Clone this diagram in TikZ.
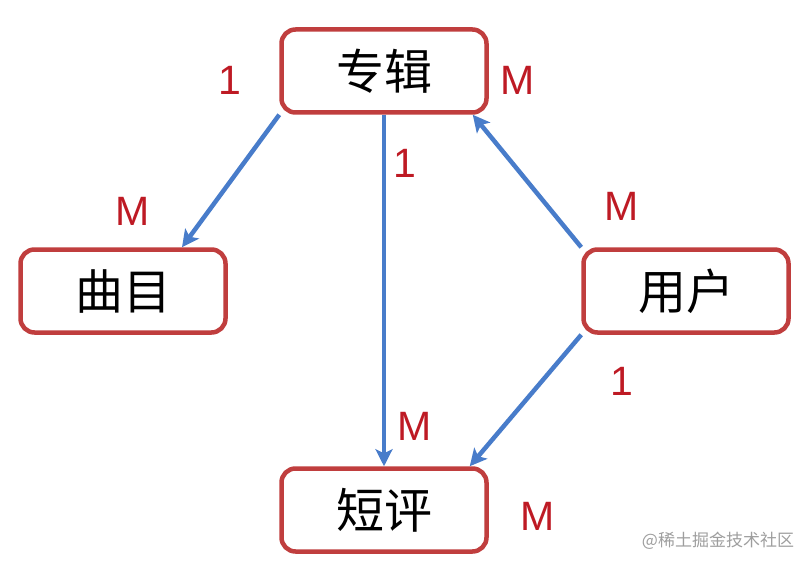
\documentclass[tikz,border=0pt]{standalone}
\usepackage{fontspec}
\setmainfont{Liberation Sans}
\newfontfamily\cjk{Noto Sans CJK SC}
\usepackage{tikz}
\usetikzlibrary{positioning,arrows.meta,calc}
\definecolor{boxred}{RGB}{192,62,62}
\definecolor{markred}{RGB}{190,26,36}
\definecolor{linkblue}{RGB}{72,124,202}

\begin{document}
\begin{tikzpicture}[x=1pt,y=-1pt,
    entbox/.style={draw=boxred, line width=4.5pt, rounded corners=14pt, fill=white,
        minimum width=205pt, minimum height=83pt, font=\cjk\fontsize{48}{50}\selectfont},
    link/.style={draw=linkblue, line width=4.5pt, -{Stealth[length=17pt,width=17pt,inset=4pt]}},
    mult/.style={text=markred, font=\fontsize{41}{43}\selectfont}]

\useasboundingbox (0,0) rectangle (810,564);

% -------------------------
% Entidades
% -------------------------
\node[entbox] (album)  at (384,71)  {专辑};
\node[entbox] (track)  at (123,291) {曲目};
\node[entbox] (user)   at (686,291) {用户};
\node[entbox] (review) at (384,510) {短评};

% -------------------------
% Relacoes
% -------------------------
\draw[link] (album.south west) -- ([xshift=59pt]track.north);
\draw[link] (album.south) -- (review.north);
\draw[link] (user.north west) -- ([xshift=-16pt]album.south east);
\draw[link] (user.south west) -- ([xshift=-19pt]review.north east);

% -------------------------
% Cardinalidades
% -------------------------
\node[mult] (m1) at (230,80)  {1};
\node[mult] (m2) at (518,80)  {M};
\node[mult] (m3) at (405,163) {1};
\node[mult] (m4) at (133,211) {M};
\node[mult] (m5) at (622,206) {M};
\node[mult] (m6) at (622,381) {1};
\node[mult] (m7) at (415,426) {M};
\node[mult] (m8) at (538,516) {M};

\node[text=black!38, font=\cjk\fontsize{17}{19}\selectfont] (mark) at (718,541) {@稀土掘金技术社区};

\end{tikzpicture}
\end{document}
